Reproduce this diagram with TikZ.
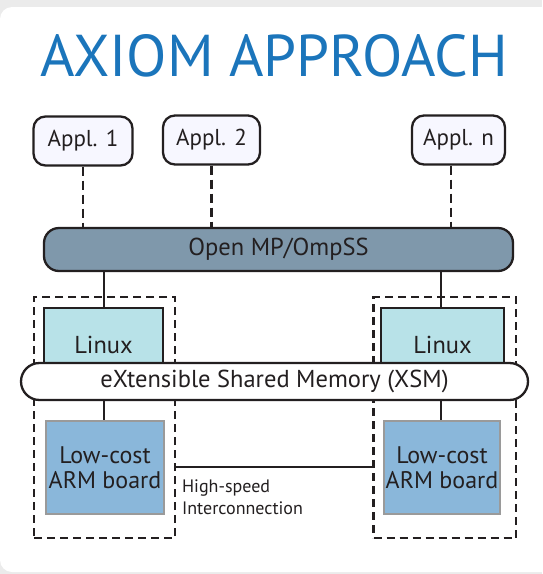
\documentclass[tikz,border=0pt]{standalone}
\usepackage{fontspec}
\setmainfont{PT Sans}
\usetikzlibrary{positioning}
\definecolor{titleblue}{HTML}{1B75BB}
\definecolor{inkdark}{HTML}{231F20}
\definecolor{ompfill}{HTML}{7F98AB}
\definecolor{linuxfill}{HTML}{B8E2E8}
\definecolor{armfill}{HTML}{8AB7DA}
\definecolor{armline}{HTML}{9A9A9A}
\definecolor{panelgray}{HTML}{EBEBEB}
\begin{document}
\begin{tikzpicture}[x=1pt,y=-1pt]
            \useasboundingbox (0,0) rectangle (542,574);
            \fill[panelgray] (0,0) rectangle (542,574);
            \fill[white, rounded corners=12pt] (0,7) rectangle (570,572);

            \node[anchor=base, text=titleblue, font=\fontsize{59}{60}\selectfont] (title) at (274,76) {AXIOM APPROACH};

            \begin{scope}[
                    every node/.style={draw=inkdark, line width=2.3pt, text=inkdark, inner sep=0pt},
                    appl/.style={fill=white!97!blue, rounded corners=12pt, minimum height=49pt, font=\fontsize{23}{25}\selectfont},
                    label/.style={font=\fontsize{24.5}{25}\selectfont},
                    group/.style={draw=inkdark, dash pattern=on 8pt off 5pt, line width=2.2pt, fill=none, inner sep=0pt},
                    link/.style={draw=inkdark, line width=2.5pt}
                ]

                % applications
                \node[appl, minimum width=99pt] (app1) at (83,141) {Appl. 1};
                \node[appl, minimum width=97pt] (app2) at (211.5,140) {Appl. 2};
                \node[appl, minimum width=93pt] (appn) at (458.5,140) {Appl. n};

                % runtime
                \node[label, fill=ompfill, rounded corners=15pt, minimum width=469pt, minimum height=43pt] (omp) at (278.5,249.5) {Open MP/OmpSS};

                % nodes of the cluster
                \node[group, minimum width=141pt, minimum height=241pt] (left) at (104.5,417.5) {};
                \node[group, minimum width=142.5pt, minimum height=241pt] (right) at (444.75,417.5) {};

                \node[fill=linuxfill, minimum width=119pt, minimum height=74pt, anchor=north] (linuxl) at (103.5,307) {};
                \node[fill=linuxfill, minimum width=123pt, minimum height=74pt, anchor=north] (linuxr) at (442.5,307) {};
                \node[label, anchor=base, draw=none] (linuxltext) at (103.5,353) {Linux};
                \node[label, anchor=base, draw=none] (linuxrtext) at (442.5,353) {Linux};

                \node[label, fill=white, rounded corners=18.5pt, minimum width=507pt, minimum height=37pt] (xsm) at (274.5,381.5) {eXtensible Shared Memory (XSM)};

                \node[draw=armline, fill=armfill, minimum width=118pt, minimum height=93pt, align=center,
                      font=\fontsize{24}{25}\selectfont] (arml) at (105,467.5) {Low-cost\\ARM board};
                \node[draw=armline, fill=armfill, minimum width=116pt, minimum height=93pt, align=center,
                      font=\fontsize{24}{25}\selectfont] (armr) at (442,467.5) {Low-cost\\ARM board};

                % connections
                \draw[link, dash pattern=on 9pt off 5pt] (app1.south) -- (app1.south |- omp.north);
                \draw[link, dash pattern=on 9pt off 5pt] (app2.south) -- (app2.south |- omp.north);
                \draw[link, dash pattern=on 9pt off 5pt] ([xshift=-7.5pt]appn.south) -- ([xshift=-7.5pt]appn.south |- omp.north);
                \draw[link] (omp.south -| 104,0) -- (linuxl.north -| 104,0);
                \draw[link] (omp.south -| 441,0) -- (linuxr.north -| 441,0);
                \draw[link] (xsm.south -| 104,0) -- (arml.north -| 104,0);
                \draw[link] (xsm.south -| 441,0) -- (armr.north -| 441,0);
                \draw[link] (left.east |- 0,467) -- (right.west |- 0,467);

                \node[draw=none, anchor=base west, align=left, font=\fontsize{18}{22}\selectfont] (speed) at (181,514) {High-speed\\Interconnection};
            \end{scope}
        \end{tikzpicture}
\end{document}
